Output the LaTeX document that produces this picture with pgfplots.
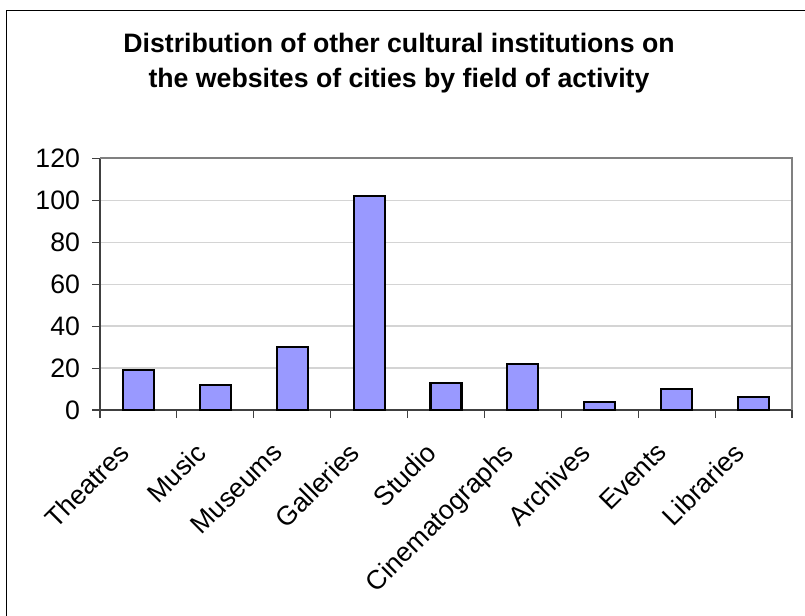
\documentclass[border=0pt]{standalone}
\usepackage{fontspec}
\setmainfont{Liberation Sans}
\usepackage{pgfplots}
\pgfplotsset{compat=1.18}
\definecolor{barblue}{HTML}{9999FF}
\definecolor{axdark}{HTML}{404040}
\definecolor{topgray}{HTML}{808080}
\definecolor{gridgray}{HTML}{D4D4D4}
\begin{document}
\begin{tikzpicture}[x=1pt,y=1pt]
\path[use as bounding box] (0,0) rectangle (603.75,461.25);
\draw[line width=1.1pt,black] (4.875,-1) -- (4.875,453.375) -- (605,453.375);
\node[anchor=base,font=\bfseries\fontsize{20}{24}\selectfont] at (299.25,421.5) {Distribution of other cultural institutions on};
\node[anchor=base,font=\bfseries\fontsize{20}{24}\selectfont] at (299.25,395.25) {the websites of cities by field of activity};
\begin{axis}[
  at={(75pt,153.75pt)}, anchor=south west,
  scale only axis, width=519pt, height=188.8pt,
  xmin=0.5, xmax=9.5, ymin=0, ymax=120,
  axis lines=left,
  axis line style={-, draw=axdark, line width=1.1pt},
  ytick={0,20,...,120},
  ymajorgrids, grid style={gridgray, line width=0.9pt},
  xtick={1,...,9},
  xticklabels={Theatres,Music,Museums,Galleries,Studio,Cinematographs,Archives,Events,Libraries},
  minor xtick={0.5,1.5,...,9.5},
  tick align=outside,
  major tick length=6pt,
  x tick style={draw=none},
  minor x tick style={draw=axdark, line width=0.8pt},
  minor tick length=6pt,
  y tick style={draw=axdark, line width=0.8pt},
  /pgf/number format/assume math mode=true,
  yticklabel style={font=\fontsize{20}{24}\selectfont, xshift=-5.5pt},
  xticklabel style={font=\fontsize{20}{24}\selectfont, xshift=-19pt, yshift=-10pt, rotate=45, anchor=north east, inner sep=1pt, xshift=-2pt, yshift=-6pt},
  clip=false,
]
\draw[topgray, line width=1.5pt] (rel axis cs:0,1) -- (rel axis cs:1,1) -- (rel axis cs:1,0);
\addplot[ybar, bar width=23.25pt, fill=barblue, draw=black, line width=1.6pt] coordinates {
 (1,19) (2,12) (3,30) (4,102) (5,13) (6,22) (7,4) (8,10) (9,6)
};
\end{axis}
\end{tikzpicture}
\end{document}
